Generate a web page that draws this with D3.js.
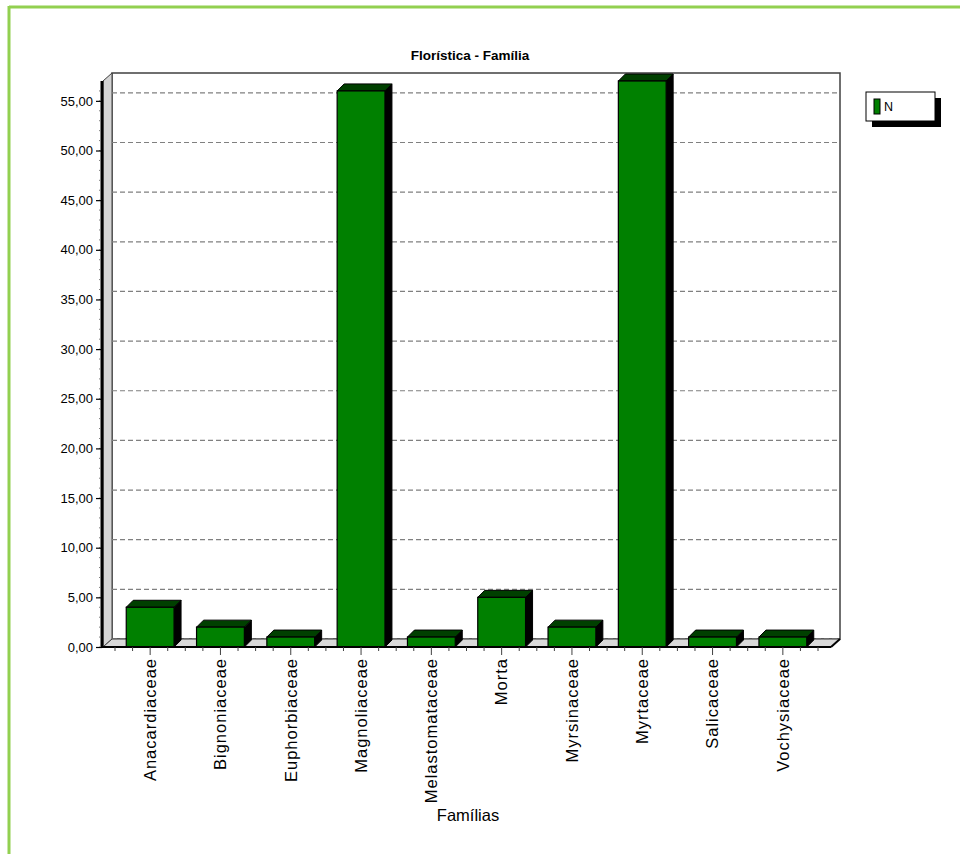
<!DOCTYPE html>
<html>
<head>
<meta charset="utf-8">
<script src="https://cdn.jsdelivr.net/npm/d3@7/dist/d3.min.js"></script>
<style>
  html, body { margin: 0; padding: 0; background: #fff; }
  svg { display: block; }
  text { font-family: "Liberation Sans", Arial, sans-serif; fill: #000; }
</style>
</head>
<body>
<svg id="chart" width="960" height="854"></svg>
<script>
// Florística por família: número de indivíduos (N)
const familias = ["Anacardiaceae", "Bignoniaceae", "Euphorbiaceae", "Magnoliaceae",
  "Melastomataceae", "Morta", "Myrsinaceae", "Myrtaceae", "Salicaceae", "Vochysiaceae"];
const valoresN = [4, 2, 1, 56, 1, 5, 2, 57, 1, 1];
const yTicks = [0, 5, 10, 15, 20, 25, 30, 35, 40, 45, 50, 55];
const serieNome = "N";
const titulo = "Florística - Família";
const eixoX = "Famílias";

const svg = d3.select("#chart");

// moldura verde da página
svg.append("line").attr("x1", 9).attr("y1", 7).attr("x2", 960).attr("y2", 7)
  .attr("stroke", "#92d050").attr("stroke-width", 3);
svg.append("line").attr("x1", 9).attr("y1", 6).attr("x2", 9).attr("y2", 854)
  .attr("stroke", "#92d050").attr("stroke-width", 3);

// área de plotagem (face frontal) e profundidade 3D
const pLeft = 103, pRight = 831, pTop = 81, pBottom = 647;
const wdx = 9, wdy = -8;     // profundidade das paredes
const bdx = 7, bdy = -7;     // profundidade das barras

const y = d3.scaleLinear().domain([0, 57]).range([pBottom, pTop]);
const x = d3.scaleBand().domain(familias).range([115, 818])
  .paddingInner(0.32).paddingOuter(0.16);
const step = x.step();

const locale = d3.formatLocale({ decimal: ",", thousands: ".", grouping: [3], currency: ["", ""] });
const fmt = locale.format(".2f");

// parede do fundo
svg.append("rect")
  .attr("x", pLeft + wdx).attr("y", pTop + wdy)
  .attr("width", pRight - pLeft).attr("height", pBottom - pTop)
  .attr("fill", "#fff").attr("stroke", "#404040").attr("stroke-width", 1.5);

// parede lateral esquerda
svg.append("path")
  .attr("d", `M${pLeft},${pTop}L${pLeft + wdx},${pTop + wdy}L${pLeft + wdx},${pBottom + wdy}L${pLeft},${pBottom}Z`)
  .attr("fill", "#d4d4d4").attr("stroke", "#404040").attr("stroke-width", 1);

// piso
svg.append("path")
  .attr("d", `M${pLeft},${pBottom}L${pLeft + wdx},${pBottom + wdy}L${pRight + wdx},${pBottom + wdy}L${pRight},${pBottom}Z`)
  .attr("fill", "#d9d9d9").attr("stroke", "#404040").attr("stroke-width", 1);

// linhas de grade tracejadas na parede do fundo
svg.append("g").selectAll("line").data(yTicks).join("line")
  .attr("x1", pLeft + wdx).attr("x2", pRight + wdx)
  .attr("y1", d => y(d) + wdy).attr("y2", d => y(d) + wdy)
  .attr("stroke", "#808080").attr("stroke-width", 1.2)
  .attr("stroke-dasharray", "5,3");

// eixo Y (aresta frontal da parede lateral)
svg.append("line").attr("x1", pLeft - 1).attr("x2", pLeft - 1)
  .attr("y1", pTop).attr("y2", pBottom + 1)
  .attr("stroke", "#000").attr("stroke-width", 3);

// marcas menores do eixo Y
svg.append("g").selectAll("line").data(d3.range(0, 57, 1)).join("line")
  .attr("x1", pLeft - 4).attr("x2", pLeft - 2)
  .attr("y1", d => y(d)).attr("y2", d => y(d))
  .attr("stroke", "#808080").attr("stroke-width", 1);

const yAxis = d3.axisLeft(y).tickValues(yTicks).tickFormat(fmt).tickSize(6).tickPadding(3);
const gy = svg.append("g").attr("transform", `translate(${pLeft - 1},0)`).call(yAxis);
gy.select(".domain").remove();
gy.selectAll(".tick line").attr("stroke", "#000").attr("stroke-width", 1.2);
gy.selectAll(".tick text").style("font-size", "13px")
  .style("font-family", "'Liberation Sans', Arial, sans-serif").attr("fill", "#000");

// barras 3D
const bars = svg.append("g").selectAll("g").data(familias.map((f, i) => ({ f, v: valoresN[i] }))).join("g");
bars.each(function (d) {
  const g = d3.select(this);
  const x0 = x(d.f), x1 = x(d.f) + x.bandwidth();
  const yt = y(d.v), yb = y(0);
  // face lateral
  g.append("path")
    .attr("d", `M${x1},${yt}L${x1 + bdx},${yt + bdy}L${x1 + bdx},${yb + bdy}L${x1},${yb}Z`)
    .attr("fill", "#000").attr("stroke", "#000").attr("stroke-width", 1);
  // topo
  g.append("path")
    .attr("d", `M${x0},${yt}L${x0 + bdx},${yt + bdy}L${x1 + bdx},${yt + bdy}L${x1},${yt}Z`)
    .attr("fill", "#004000").attr("stroke", "#000").attr("stroke-width", 1);
  // face frontal
  g.append("rect")
    .attr("x", x0).attr("y", yt).attr("width", x1 - x0).attr("height", yb - yt)
    .attr("fill", "#008000").attr("stroke", "#000").attr("stroke-width", 1.2);
});

// eixo X (aresta frontal do piso)
svg.append("line").attr("x1", pLeft - 1).attr("x2", pRight)
  .attr("y1", pBottom).attr("y2", pBottom)
  .attr("stroke", "#000").attr("stroke-width", 2);
svg.append("line").attr("x1", pRight).attr("x2", pRight + wdx)
  .attr("y1", pBottom).attr("y2", pBottom + wdy)
  .attr("stroke", "#000").attr("stroke-width", 2);

// marcas do eixo X: principais no centro, menores a cada quarto de passo
const minor = [];
familias.forEach(f => {
  const c = x(f) + x.bandwidth() / 2;
  [-2, -1, 1].forEach(k => minor.push(c + k * step / 4));
});
minor.push(x(familias[familias.length - 1]) + x.bandwidth() / 2 + step / 2);
svg.append("g").selectAll("line").data(minor).join("line")
  .attr("x1", d => d).attr("x2", d => d)
  .attr("y1", pBottom).attr("y2", pBottom + 4)
  .attr("stroke", "#404040").attr("stroke-width", 1);

const xAxis = d3.axisBottom(x).tickSize(8).tickPadding(4);
const gx = svg.append("g").attr("transform", `translate(0,${pBottom})`).call(xAxis);
gx.select(".domain").remove();
gx.selectAll(".tick line").attr("stroke", "#404040").attr("stroke-width", 1);
gx.selectAll(".tick text")
  .style("font-size", "16.5px").style("font-family", "'Liberation Sans', Arial, sans-serif")
  .style("letter-spacing", "1px")
  .attr("fill", "#000")
  .attr("text-anchor", "end")
  .attr("transform", "rotate(-90)")
  .attr("x", -11).attr("y", 0).attr("dy", "0.35em");

// título
svg.append("text").attr("x", 470).attr("y", 60).attr("text-anchor", "middle")
  .style("font-size", "13.5px").style("font-weight", "bold").text(titulo);

// título do eixo X
svg.append("text").attr("x", 468).attr("y", 821).attr("text-anchor", "middle")
  .style("font-size", "16.5px").text(eixoX);

// legenda
const lg = svg.append("g").attr("transform", "translate(866,92)");
lg.append("rect").attr("x", 6).attr("y", 6).attr("width", 69).attr("height", 29).attr("fill", "#000");
lg.append("rect").attr("x", 0).attr("y", 0).attr("width", 69).attr("height", 29)
  .attr("fill", "#fff").attr("stroke", "#000").attr("stroke-width", 1);
lg.append("rect").attr("x", 8).attr("y", 7).attr("width", 6).attr("height", 15)
  .attr("fill", "#008000").attr("stroke", "#000").attr("stroke-width", 1);
lg.append("text").attr("x", 18).attr("y", 15).attr("dy", "0.35em")
  .style("font-size", "12.5px").text(serieNome);
</script>
</body>
</html>
